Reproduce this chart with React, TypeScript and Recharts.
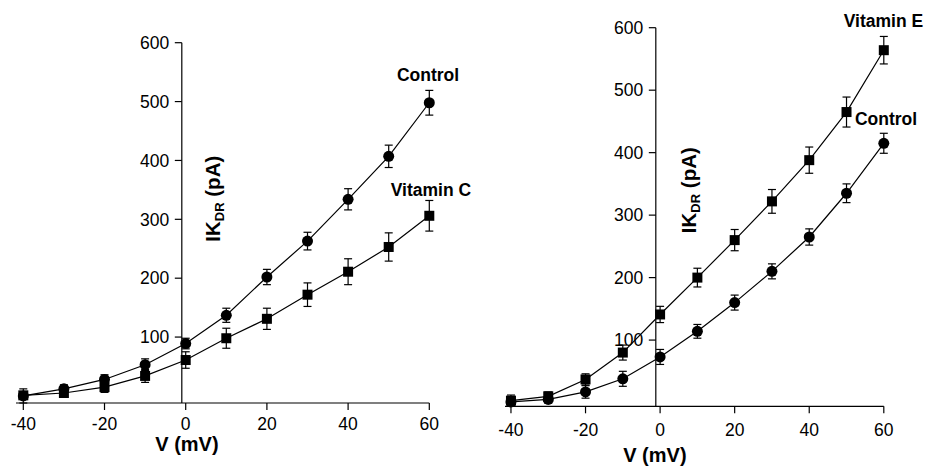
import React from 'react';
import { LineChart, Line, XAxis, YAxis, ErrorBar, ReferenceLine, ReferenceDot } from 'recharts';

// ---- data ----
const voltages = [-40, -30, -20, -10, 0, 10, 20, 30, 40, 50, 60];
const leftControl = [0, 12, 28, 53, 89, 137, 202, 263, 334, 407, 498];
const leftControlErr = [12, 7, 8, 10, 9, 12, 13, 15, 18, 19, 21];
const vitaminC = [1, 5, 15, 34, 61, 98, 131, 172, 211, 253, 306];
const vitaminCErr = [4, 4, 9, 11, 14, 17, 18, 20, 22, 24, 26];
const vitaminE = [3, 10, 37, 80, 141, 200, 260, 322, 388, 465, 564];
const vitaminEErr = [9, 7, 9, 12, 13, 15, 17, 19, 21, 24, 22];
const rightControl = [1, 5, 17, 38, 73, 114, 160, 210, 265, 335, 415];
const rightControlErr = [6, 6, 10, 12, 12, 11, 12, 12, 13, 15, 16];
const xTicks = [-40, -20, 0, 20, 40, 60];
const yTicks = [100, 200, 300, 400, 500, 600];

const leftData = voltages.map((v, i) => ({
  v,
  a: leftControl[i],
  aErr: leftControlErr[i],
  b: vitaminC[i],
  bErr: vitaminCErr[i],
}));
const rightData = voltages.map((v, i) => ({
  v,
  a: vitaminE[i],
  aErr: vitaminEErr[i],
  b: rightControl[i],
  bErr: rightControlErr[i],
}));

const FONT = "'Liberation Sans', Arial, Helvetica, sans-serif";

const CircleDot = (p: any) =>
  p.cx == null ? null : <circle key={`c${p.index}`} cx={p.cx} cy={p.cy} r={5.5} fill="#000" />;
const SquareDot = (p: any) =>
  p.cx == null ? null : (
    <rect key={`s${p.index}`} x={p.cx - 5} y={p.cy - 5} width={10} height={10} fill="#000" />
  );

const makeYTick = (label: number) => (p: any) => (
  <g>
    <line x1={p.cx - 7} y1={p.cy} x2={p.cx} y2={p.cy} stroke="#000" strokeWidth={1.2} />
    <text x={p.cx - 12.5} y={p.cy} dy="0.355em" textAnchor="end" fontSize={17.5} fill="#000" fontFamily={FONT}>
      {label}
    </text>
  </g>
);

const makeLabel = (txt: string, size: number) => (p: any) => (
  <text x={p.cx} y={p.cy} dy="0.355em" textAnchor="middle" fontSize={size} fontWeight="bold" fill="#000" fontFamily={FONT}>
    {txt}
  </text>
);

const YTitle = (p: any) => (
  <text
    x={p.cx}
    y={p.cy}
    dy="0.355em"
    textAnchor="middle"
    fontSize={20.5}
    fontWeight="bold"
    fill="#000"
    fontFamily={FONT}
    transform={`rotate(-90 ${p.cx} ${p.cy})`}
  >
    IK
    <tspan fontSize={13} dy="4">DR</tspan>
    <tspan dy="-4"> (pA)</tspan>
  </text>
);

type PanelProps = {
  data: any[];
  width: number;
  margin: { top: number; right: number; bottom: number; left: number };
  xMin: number;
  yAxisAt: number;
  tickMargin: number;
  aIsSquare: boolean;
  labels: { txt: string; x: number; y: number }[];
  yTitle: { x: number; y: number };
  xTitle: { x: number; y: number };
};

const Panel = ({ data, width, margin, xMin, yAxisAt, tickMargin, aIsSquare, labels, yTitle, xTitle }: PanelProps) => (
  <LineChart width={width} height={471} data={data} margin={margin} style={{ fontFamily: FONT }}>
    <XAxis
      dataKey="v"
      type="number"
      domain={[xMin, 60]}
      ticks={xTicks}
      tickSize={7}
      tickMargin={tickMargin}
      axisLine={{ stroke: '#000', strokeWidth: 1.2 }}
      tickLine={{ stroke: '#000', strokeWidth: 1.2 }}
      tick={{ fontSize: 17.5, fill: '#000', fontFamily: FONT }}
      height={30}
    />
    <YAxis hide type="number" domain={[0, 600]} />
    <ReferenceLine x={yAxisAt} stroke="#000" strokeWidth={1.2} />
    {yTicks.map((t) => (
      <ReferenceDot key={`yt${t}`} x={yAxisAt} y={t} r={0} ifOverflow="visible" shape={makeYTick(t)} />
    ))}
    <Line
      dataKey="a"
      type="linear"
      stroke="#000"
      strokeWidth={1.2}
      dot={aIsSquare ? SquareDot : CircleDot}
      activeDot={false}
      isAnimationActive={false}
    >
      <ErrorBar dataKey="aErr" direction="y" width={4} stroke="#000" strokeWidth={1.2} isAnimationActive={false} />
    </Line>
    <Line
      dataKey="b"
      type="linear"
      stroke="#000"
      strokeWidth={1.2}
      dot={aIsSquare ? CircleDot : SquareDot}
      activeDot={false}
      isAnimationActive={false}
    >
      <ErrorBar dataKey="bErr" direction="y" width={4} stroke="#000" strokeWidth={1.2} isAnimationActive={false} />
    </Line>
    {labels.map((l) => (
      <ReferenceDot key={l.txt} x={l.x} y={l.y} r={0} ifOverflow="visible" shape={makeLabel(l.txt, 17.5)} />
    ))}
    <ReferenceDot x={yTitle.x} y={yTitle.y} r={0} ifOverflow="visible" shape={YTitle} />
    <ReferenceDot x={xTitle.x} y={xTitle.y} r={0} ifOverflow="visible" shape={makeLabel('V (mV)', 20)} />
  </LineChart>
);

export default function App() {
  return (
    <div style={{ position: 'absolute', left: 0, top: 0, width: 926, height: 471, background: '#fff', overflow: 'hidden' }}>
      <div style={{ position: 'absolute', left: 0, top: 0 }}>
        <Panel
          data={leftData}
          width={480}
          margin={{ top: 42.7, right: 50.7, bottom: 38, left: 16 }}
          xMin={-41.8}
          yAxisAt={-0.96}
          tickMargin={8}
          aIsSquare={false}
          labels={[
            { txt: 'Control', x: 59.7, y: 546 },
            { txt: 'Vitamin C', x: 60.4, y: 351 },
          ]}
          yTitle={{ x: 6.6, y: 335 }}
          xTitle={{ x: 0.3, y: -82 }}
        />
      </div>
      <div style={{ position: 'absolute', left: 463, top: 0 }}>
        <Panel
          data={rightData}
          width={463}
          margin={{ top: 27.7, right: 42.2, bottom: 34.7, left: 42 }}
          xMin={-41.6}
          yAxisAt={-1.15}
          tickMargin={10}
          aIsSquare={true}
          labels={[
            { txt: 'Vitamin E', x: 59.9, y: 611 },
            { txt: 'Control', x: 60.6, y: 455 },
          ]}
          yTitle={{ x: 7.7, y: 340 }}
          xTitle={{ x: -1.4, y: -83.5 }}
        />
      </div>
    </div>
  );
}
